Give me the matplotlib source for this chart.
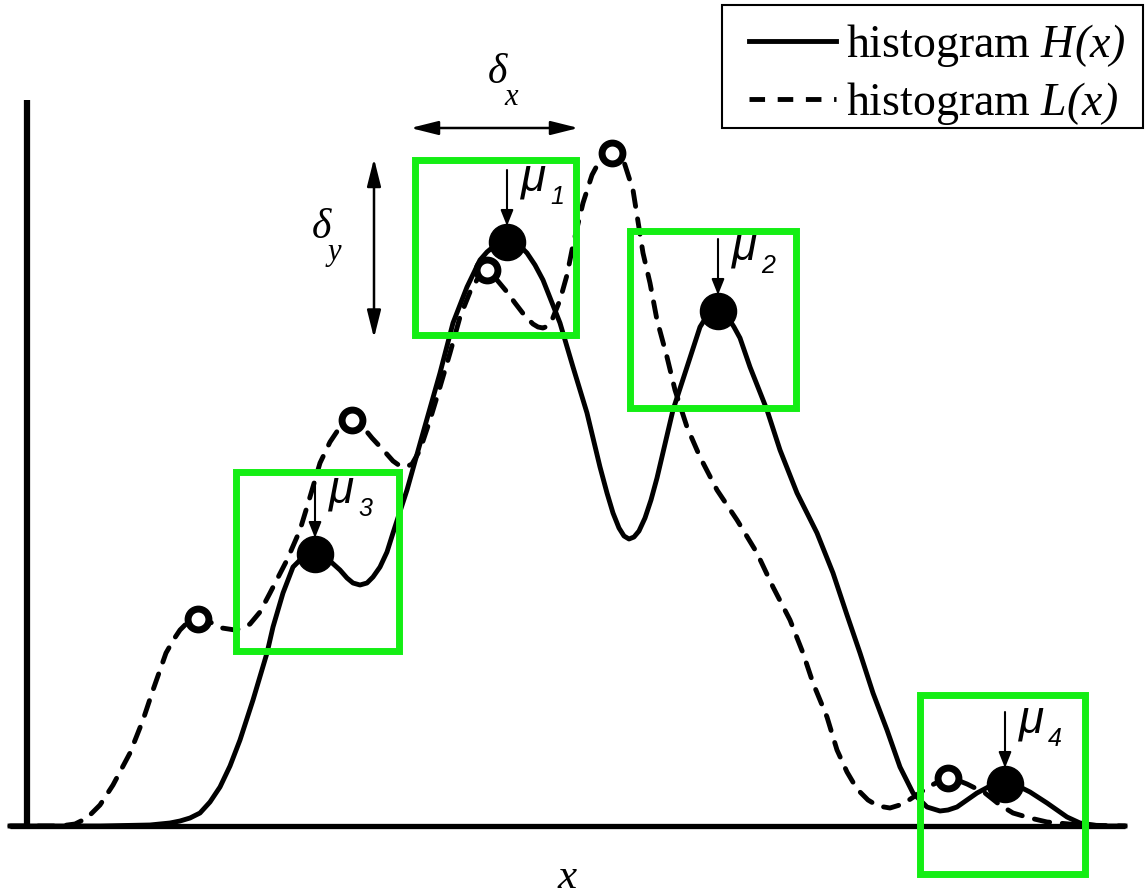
import matplotlib
matplotlib.use("Agg")
import matplotlib.pyplot as plt
from matplotlib.patches import Rectangle
from matplotlib.lines import Line2D

# math text in italic Times-like serif, parentheses included
plt.rcParams["mathtext.fontset"] = "custom"
plt.rcParams["mathtext.rm"] = "Liberation Serif:italic"
plt.rcParams["mathtext.it"] = "Liberation Serif:italic"

# histogram H(x): solid curve (position along x, height above baseline)
h_x = [10, 100, 150, 160, 170, 180, 190, 200, 210, 220, 230, 240, 253, 267, 273, 283,
       293, 300, 307, 315, 322, 330, 340, 347, 353, 360, 367, 373, 380, 387, 393, 407,
       423, 440, 453, 467, 480, 487, 493, 500, 507, 514, 520, 527, 535, 543, 560, 573,
       587, 600, 607, 613, 619, 624, 629, 634, 639, 645, 651, 657, 673, 687, 700, 705,
       710, 718, 724, 729, 734, 740, 750, 767, 780, 797, 817, 833, 847, 860, 873, 887,
       900, 913, 927, 940, 948, 957, 967, 977, 992, 1005, 1018, 1030, 1047, 1067, 1080,
       1100, 1125]
h_y = [0, 0, 1, 2, 3, 5, 8, 13, 24, 39, 60, 86, 126, 173, 199, 233,
       259, 266, 271, 273, 271, 265, 256, 248, 243, 241, 243, 249, 259, 274, 293, 336,
       393, 453, 503, 539, 566, 574, 579, 583, 585, 584, 580, 573, 561, 546, 503, 459,
       413, 359, 333, 313, 298, 290, 287, 289, 295, 308, 326, 348, 416, 459, 499, 507,
       513, 516, 513, 507, 499, 488, 459, 416, 376, 333, 293, 253, 211, 173, 133, 96,
       59, 33, 19, 15, 16, 19, 26, 33, 41, 43, 40, 34, 23, 9, 3,
       0, 0]

# histogram L(x): dashed curve
l_x = [10, 60, 75, 87, 100, 113, 130, 143, 153, 166, 174, 180, 186, 192, 198, 205,
       212, 222, 235, 243, 250, 260, 270, 287, 300, 310, 320, 330, 340, 346, 352, 358,
       363, 372, 385, 393, 400, 406, 412, 420, 430, 440, 450, 460, 470, 478, 483, 487,
       492, 497, 507, 515, 525, 533, 538, 543, 548, 552, 560, 567, 573, 583, 592, 600,
       606, 612, 618, 624, 633, 643, 650, 657, 667, 675, 687, 700, 717, 737, 757, 773,
       790, 803, 813, 827, 837, 847, 857, 868, 878, 890, 903, 915, 930, 940, 948, 957,
       967, 985, 1000, 1013, 1030, 1047, 1080, 1125]
l_y = [0, 0, 2, 8, 21, 41, 73, 106, 136, 173, 187, 196, 202, 205, 207, 206,
       203, 198, 196, 198, 202, 214, 233, 266, 296, 329, 363, 384, 399, 404, 406, 404,
       399, 388, 374, 365, 360, 359, 362, 376, 406, 439, 473, 509, 534, 548, 553, 556,
       553, 546, 534, 523, 510, 502, 499, 498, 500, 506, 526, 551, 581, 623, 651, 666,
       671, 673, 671, 664, 636, 573, 543, 506, 469, 436, 399, 369, 336, 306, 273, 239,
       206, 173, 143, 109, 76, 54, 37, 26, 20, 18, 22, 30, 40, 45, 48, 46,
       42, 33, 21, 13, 8, 4, 1, 0]

# modes of H (filled dots) and of L (open circles)
mu_labels = ["1", "2", "3", "4"]
mu_x = [507, 718, 315, 1005]
mu_y = [584, 515, 272, 42]
l_peak_x = [198, 352, 487, 612, 948]
l_peak_y = [207, 406, 556, 673, 48]

# search windows around each mode
box_left = [414.5, 630, 236, 920]
box_bottom = [491, 418, 175, -48]
box_w = [161, 166, 163, 165]
box_h = [175.5, 177, 179, 179]

green = "#14ee14"
dash = (0, (3.2, 2.6))

fig = plt.figure(figsize=(11.46, 8.96), dpi=100)
ax = fig.add_axes([0, 0, 1, 1])
ax.set_xlim(0, 1146)
ax.set_ylim(-70, 826)
ax.axis("off")

# axes drawn by hand: vertical axis and baseline
ax.axvline(26.5, ymin=70 / 896, ymax=796 / 896, color="k", lw=4.5, solid_capstyle="butt")
ax.axhline(0, xmin=10 / 1146, xmax=1125 / 1146, color="k", lw=3.8, solid_capstyle="butt")

ax.plot(l_x, l_y, color="k", lw=3.5, ls=dash, dash_capstyle="round",
        solid_joinstyle="round", zorder=3)
ax.plot(h_x, h_y, color="k", lw=3.5, solid_joinstyle="round", zorder=4)

for x0, y0, w, h in zip(box_left, box_bottom, box_w, box_h):
    ax.add_patch(Rectangle((x0, y0), w, h, fill=False, ec=green, lw=5, zorder=5,
                           joinstyle="miter"))

ax.plot(l_peak_x, l_peak_y, "o", ms=15, mfc="white", mec="k", mew=5, zorder=6)
ax.plot(mu_x, mu_y, "o", ms=26, color="k", zorder=7)

for lab, x, y in zip(mu_labels, mu_x, mu_y):
    ax.annotate("", xy=(x, y + 16), xytext=(x, y + 72),
                arrowprops=dict(arrowstyle="-|>,head_length=0.5,head_width=0.2",
                                color="k", lw=1.5, mutation_scale=19,
                                shrinkA=0, shrinkB=0), zorder=8)
    ax.text(x + 27, y + 64, "\u03bc", fontsize=33, family="Liberation Sans",
            style="italic", ha="center", va="center", zorder=8)
    ax.text(x + 50, y + 45, lab, fontsize=18, family="Liberation Sans",
            style="italic", ha="center", va="center", zorder=8)

# delta_x / delta_y extents taken from the first window
bx0, by0, bw, bh = box_left[0], box_bottom[0], box_w[0], box_h[0]
dbl = dict(arrowstyle="<|-|>,head_length=0.6,head_width=0.15", color="k", lw=1.8,
           mutation_scale=28, shrinkA=0, shrinkB=0)
ax.annotate("", xy=(bx0 - 4, 698), xytext=(bx0 + bw + 3, 698), arrowprops=dbl)
ax.annotate("", xy=(374, by0 - 3), xytext=(374, by0 + bh + 1), arrowprops=dbl)

ax.text(497, 826 - 73, "\u03b4", fontsize=30, family="Liberation Serif", style="italic",
        ha="center", va="center")
ax.text(511, 826 - 97, "x", fontsize=22, family="Liberation Serif", style="italic",
        ha="center", va="center")
ax.text(321, 826 - 228, "\u03b4", fontsize=30, family="Liberation Serif", style="italic",
        ha="center", va="center")
ax.text(334, 826 - 252, "y", fontsize=22, family="Liberation Serif", style="italic",
        ha="center", va="center")

ax.text(567, 826 - 878, "x", fontsize=31, family="Liberation Serif", style="italic",
        ha="center", va="center")

# legend entries without their own frame; the box is drawn separately
handles = [Line2D([], [], color="k", lw=3.5),
           Line2D([], [], color="k", lw=3.5, ls=dash)]
leg = fig.legend(handles, [r"histogram $H(x)$", r"histogram $L(x)$"],
                 loc="upper right", bbox_to_anchor=(1143 / 1146, 1 - 5 / 896),
                 borderaxespad=0, frameon=False,
                 prop=dict(family="Liberation Serif", size=33),
                 handlelength=1.9, handletextpad=0.22, labelspacing=0.24,
                 borderpad=0.38)
fig.patches.append(Rectangle((722 / 1146, 1 - 128 / 896), 421 / 1146, 123 / 896,
                             transform=fig.transFigure, fill=False, ec="k", lw=1.5,
                             figure=fig))

fig.savefig("out.png", dpi=100)
